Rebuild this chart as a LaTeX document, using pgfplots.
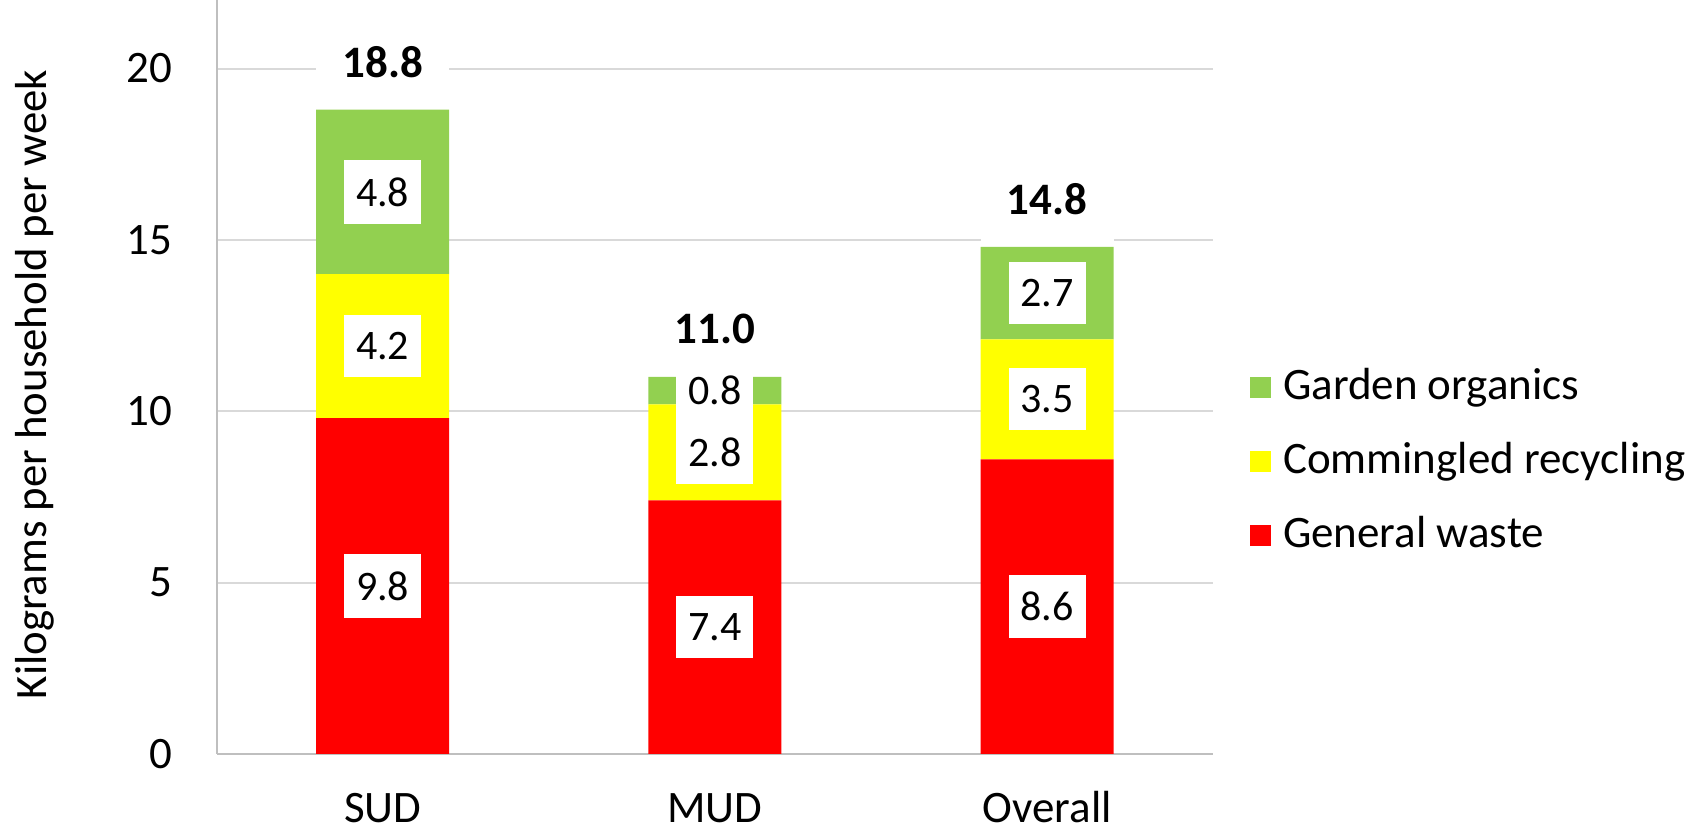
\documentclass[border=0pt]{standalone}
\usepackage{pgfplots}
\pgfplotsset{compat=1.18}
\usepackage{pgfplotstable}
\usepackage{fontspec}
\setmainfont{Carlito}
\definecolor{gw}{HTML}{FF0000}
\definecolor{cr}{HTML}{FFFF00}
\definecolor{go}{HTML}{92D050}
\definecolor{gridc}{HTML}{D9D9D9}
\definecolor{axc}{HTML}{BFBFBF}

\pgfplotstableread{
x general commingled garden gap total boxh
0 9.8 4.2 4.8 2.78 18.8 44
1 7.4 2.8 0.8 2.80 11.0 44
2 8.6 3.5 2.7 2.80 14.8 44
}\data

\pgfplotsset{
  seglabel/.style={
    nodes near coords={\pgfmathprintnumber[fixed,fixed zerofill,precision=1]{\rawy}},
    visualization depends on={\thisrow{#1} \as \rawy},
    every node near coord/.append style={anchor=center, fill=white, text=black,
      font=\fontsize{21}{25}\selectfont, inner xsep=6pt, inner ysep=8.6pt},
  },
  sqlegend/.style={legend image code/.code={\fill[##1] (0pt,-5.25pt) rectangle (10.5pt,5.25pt);}},
}

\begin{document}
\fontsize{22.5}{27}\selectfont
\begin{tikzpicture}
\begin{axis}[
  at={(0,0)}, anchor=south west,
  scale only axis, width=498.3pt, height=377pt,
  ybar stacked, bar width=66.5pt,
  xmin=-0.5, xmax=2.5, ymin=0, ymax=22,
  xtick={0,1,2}, xticklabels={SUD,MUD,Overall},
  ytick={0,5,10,15,20},
  major tick length=0pt,
  axis x line*=bottom, axis y line*=left,
  axis line style={draw=axc, line width=1pt, -},
  ymajorgrids, grid style={draw=gridc, line width=1pt},
  /pgf/number format/assume math mode=true,
  ylabel={Kilograms per household per week},
  every axis y label/.style={at={(axis description cs:-0.163,0.490)}, rotate=90, anchor=south,
    inner sep=0pt, font=\fontsize{22.4}{26}\selectfont},
  yticklabel style={anchor=east, inner sep=0pt, xshift=-22pt},
  xticklabel style={anchor=north, inner sep=0pt, yshift=-20pt, text height=14pt, text depth=0pt},
  reverse legend,
  legend style={at={(1.037,0.388)}, anchor=west, draw=none, fill=none, inner sep=0pt,
    row sep=17.9pt, column sep=5.8pt, nodes={inner sep=0pt}},
  legend cell align=left,
]
\addplot[fill=gw, draw=none, sqlegend, seglabel=general] table[x=x, y=general]{\data};
\addlegendentry{General waste}
\addplot[fill=cr, draw=none, sqlegend, seglabel=commingled] table[x=x, y=commingled]{\data};
\addlegendentry{Commingled recycling}
\addplot[fill=go, draw=none, sqlegend, seglabel=garden] table[x=x, y=garden]{\data};
\addlegendentry{Garden organics}
\addplot[draw=none, fill=none, forget plot,
  nodes near coords={\bfseries\pgfmathprintnumber[fixed,fixed zerofill,precision=1]{\tot}},
  visualization depends on={\thisrow{total} \as \tot},
  visualization depends on={\thisrow{boxh} \as \bh},
  every node near coord/.append style={anchor=center, fill=white, text=black,
    minimum width=66.5pt, minimum height=\bh pt, inner sep=0pt}]
  table[x=x, y=gap]{\data};
\end{axis}
\pgfresetboundingbox
\path[use as bounding box] (-108.3pt,-37.5pt) rectangle (740.7pt,377pt);
\end{tikzpicture}
\end{document}
